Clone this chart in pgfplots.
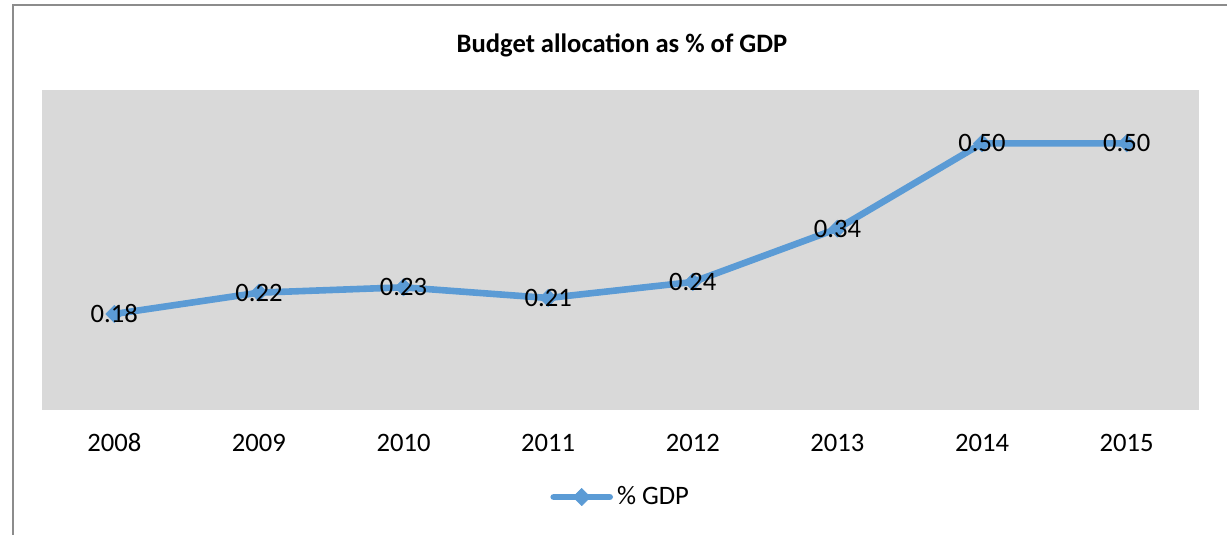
\documentclass[border=0pt]{standalone}
\usepackage{pgfplots}
\pgfplotsset{compat=1.18}
\usepackage{fontspec}
\setmainfont{Carlito}
\definecolor{exblue}{HTML}{5B9BD5}
\definecolor{plotgray}{HTML}{D9D9D9}
\definecolor{framegray}{HTML}{8C8C8C}
\begin{document}
\begin{tikzpicture}
\path[use as bounding box] (0,0) rectangle (613.5pt,267.5pt);
\draw[framegray, line width=0.8pt] (6.5pt,0) -- (6.5pt,265pt) -- (614pt,265pt);
\node[font=\fontsize{13.3}{15}\selectfont\bfseries] at (311pt,245pt) {Budget allocation as \% of GDP};
\begin{axis}[
  at={(21pt,62.5pt)}, anchor=south west,
  scale only axis, width=578.5pt, height=160pt,
  xmin=-0.5, xmax=7.5, ymin=0, ymax=0.6,
  axis line style={draw=none},
  axis background/.style={fill=plotgray},
  xtick={0,1,2,3,4,5,6,7},
  xticklabels={2008,2009,2010,2011,2012,2013,2014,2015},
  ytick=\empty,
  major tick length=0pt,
  xticklabel style={anchor=center, yshift=-16.5pt, font=\fontsize{13.3}{15}\selectfont},
  clip=false,
  legend style={at={(axis description cs:0.501,-0.272)}, anchor=center, draw=none, fill=none, font=\fontsize{13.3}{15}\selectfont, inner sep=0pt},
  legend image code/.code={\draw[#1,mark repeat=2,mark phase=2] plot coordinates {(0pt,0pt)(14pt,0pt)(28pt,0pt)};},
  nodes near coords,
  point meta=y,
  every node near coord/.append style={anchor=center, font=\fontsize{13.3}{15}\selectfont, text=black,
    /pgf/number format/.cd, fixed, fixed zerofill, precision=2, assume math mode=true},
]
\addplot[exblue, line width=3.3pt, line join=round, line cap=round, mark=diamond*, mark size=4.3pt, mark options={xscale=1.333, line width=0.3pt, fill=exblue, draw=exblue}]
  coordinates {(0,0.18) (1,0.22) (2,0.23) (3,0.21) (4,0.24) (5,0.34) (6,0.50) (7,0.50)};
\addlegendentry{\% GDP}
\end{axis}
\end{tikzpicture}
\end{document}
